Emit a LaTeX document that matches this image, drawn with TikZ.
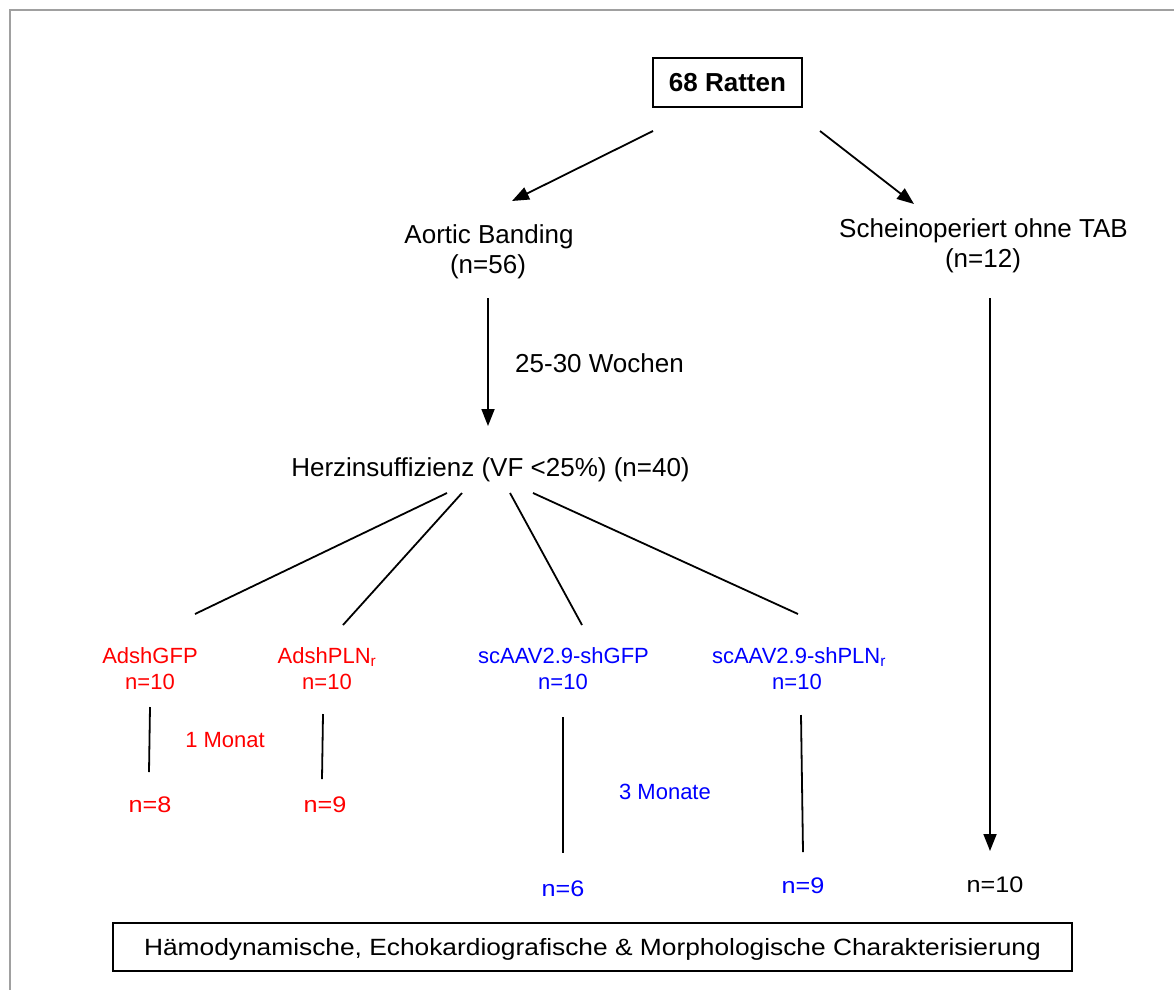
\documentclass[tikz,border=0pt]{standalone}
\usepackage{fontspec}
\usepackage{graphicx}
\setmainfont{Liberation Sans}
\usetikzlibrary{arrows.meta}
\definecolor{framegray}{RGB}{160,160,160}
\newcommand{\stretchx}[1]{\scalebox{1.12}[1]{#1}}
\begin{document}
\begin{tikzpicture}[x=1pt,y=-1pt,
  lbl/.style={font=\fontsize{26}{30}\selectfont, anchor=base, inner sep=0pt},
  sml/.style={font=\fontsize{22}{26}\selectfont, anchor=base, inner sep=0pt},
  big/.style={font=\fontsize{22.5}{26}\selectfont, anchor=base, inner sep=0pt},
  conn/.style={line width=1.8pt},
  arr/.style={line width=1.8pt, -{Triangle[length=17pt,width=13pt]}},
  boxnode/.style={draw, line width=2pt, inner sep=0pt, text depth=0pt}
]
\useasboundingbox (0,0) rectangle (1174,990);
\fill[white] (0,0) rectangle (1174,990);
\draw[framegray, line width=2.2pt] (10,990) -- (10,10) -- (1174,10);

% nodes
\node[boxnode, font=\bfseries\fontsize{26}{30}\selectfont, text height=18.6pt,
      minimum width=149pt, minimum height=49pt] (rat) at (727.5,82.5) {68 Ratten};
\node[lbl] (ab1) at (489,243) {Aortic Banding};
\node[lbl] (ab2) at (488,273) {(n=56)};
\node[lbl] (so1) at (983.5,237) {Scheinoperiert ohne TAB};
\node[lbl] (so2) at (983,267) {(n=12)};
\node[lbl, anchor=base west] (wo) at (515,372) {25-30 Wochen};
\node[lbl] (hi) at (490.5,476) {Herzinsuffizienz (VF <25\%) (n=40)};

\node[sml, red] (g1) at (150,663) {AdshGFP};
\node[sml, red] (g1n) at (150,689) {n=10};
\node[sml, red] (p1) at (327,663) {AdshPLN\textsubscript{r}};
\node[sml, red] (p1n) at (327,689) {n=10};
\node[sml, blue] (g2) at (563.5,663) {scAAV2.9-shGFP};
\node[sml, blue] (g2n) at (563,689) {n=10};
\node[sml, blue] (p2) at (799,663) {scAAV2.9-shPLN\textsubscript{r}};
\node[sml, blue] (p2n) at (797,689) {n=10};

\node[sml, red] (m1) at (225,747) {1 Monat};
\node[sml, blue] (m3) at (665,799) {3 Monate};

\node[big, red] (e1) at (150,812) {\stretchx{n=8}};
\node[big, red] (e2) at (325,812) {\stretchx{n=9}};
\node[big, blue] (e3) at (563,896) {\stretchx{n=6}};
\node[big, blue] (e4) at (803,893) {\stretchx{n=9}};
\node[big] (e5) at (995,892) {\stretchx{n=10}};

\node[boxnode, font=\fontsize{23.5}{28}\selectfont, text height=16.8pt,
      minimum width=959pt, minimum height=48pt] (ch) at (592.5,947)
      {\stretchx{Hämodynamische, Echokardiografische \& Morphologische Charakterisierung}};

% connector end points
\coordinate (a1s) at (653,131);  \coordinate (a1e) at (512,201);
\coordinate (a2s) at (820,131);  \coordinate (a2e) at (914,204);
\coordinate (v1s) at (488,298);  \coordinate (v1e) at (488,426);
\coordinate (v2s) at (990,298);  \coordinate (v2e) at (990,851);
\coordinate (h1s) at (447,493);  \coordinate (h1e) at (195,614);
\coordinate (h2s) at (462,493);  \coordinate (h2e) at (343,625);
\coordinate (h3s) at (510,493);  \coordinate (h3e) at (582,625);
\coordinate (h4s) at (533,493);  \coordinate (h4e) at (798,614);
\coordinate (d1s) at (150,707);  \coordinate (d1e) at (149,772);
\coordinate (d2s) at (323,714);  \coordinate (d2e) at (322,779);
\coordinate (d3s) at (563,717);  \coordinate (d3e) at (563,853);
\coordinate (d4s) at (801,715);  \coordinate (d4e) at (803,852);

\draw[arr] (a1s) -- (a1e);
\draw[arr] (a2s) -- (a2e);
\draw[arr] (v1s) -- (v1e);
\draw[arr] (v2s) -- (v2e);
\draw[conn] (h1s) -- (h1e);
\draw[conn] (h2s) -- (h2e);
\draw[conn] (h3s) -- (h3e);
\draw[conn] (h4s) -- (h4e);
\draw[conn] (d1s) -- (d1e);
\draw[conn] (d2s) -- (d2e);
\draw[conn] (d3s) -- (d3e);
\draw[conn] (d4s) -- (d4e);
\end{tikzpicture}
\end{document}
